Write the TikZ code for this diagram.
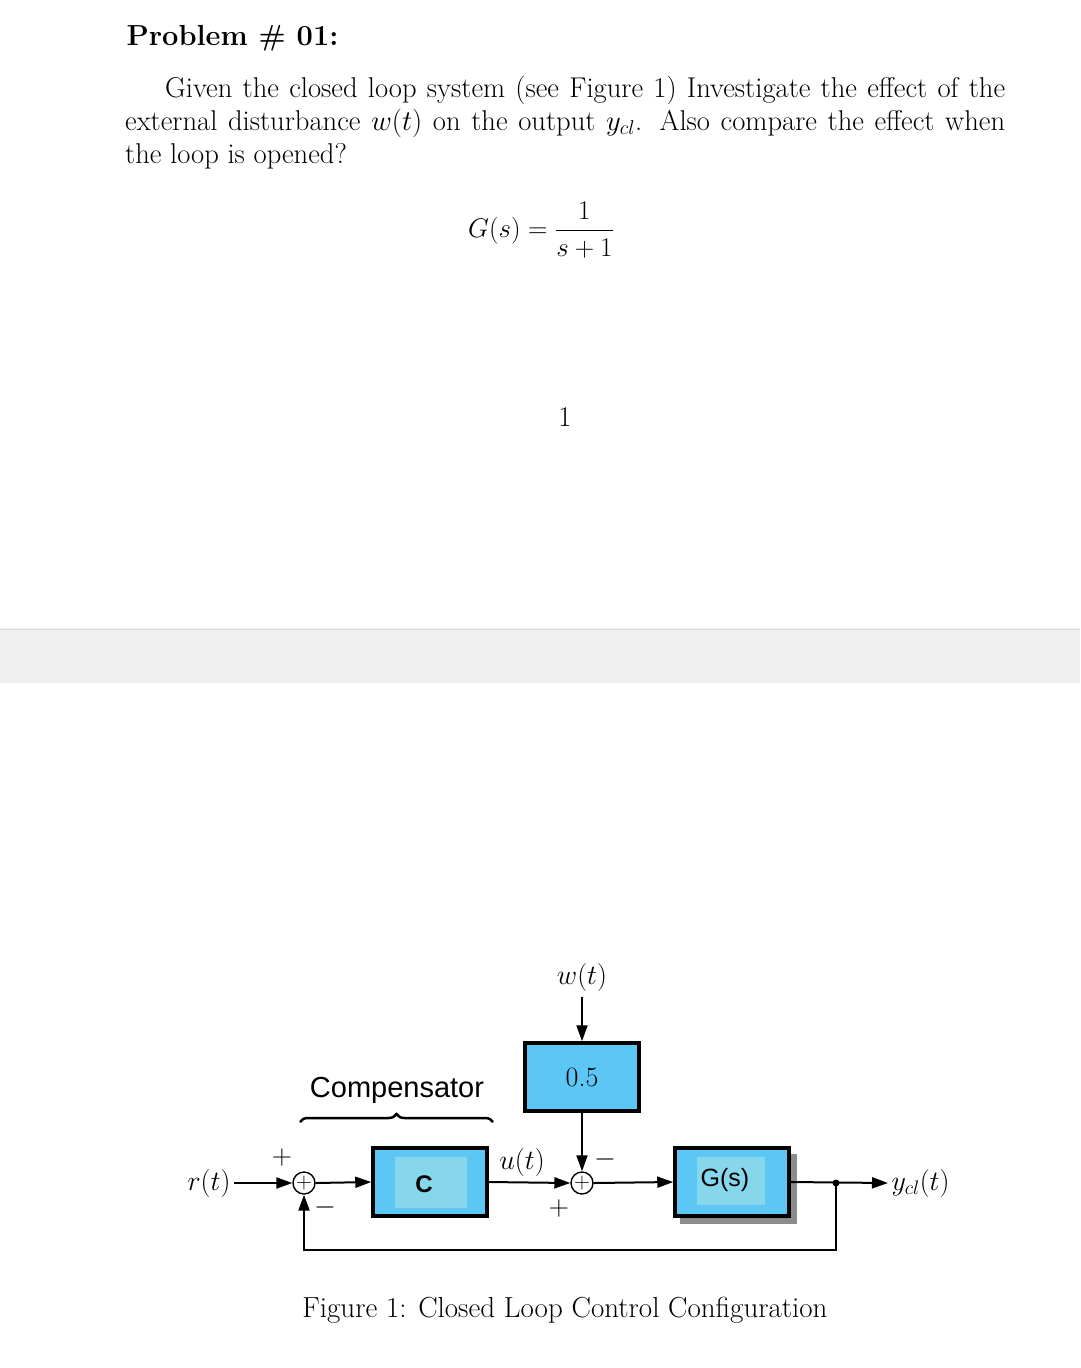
\documentclass[tikz,border=0pt]{standalone}
\usepackage{fix-cm}
\usepackage{amsmath}
\usepackage{fontspec}
\newfontfamily\arialf{Liberation Sans}
\usetikzlibrary{arrows.meta,decorations.pathreplacing,calc}
\definecolor{boxout}{HTML}{5CC6F4}
\definecolor{boxin}{HTML}{86D6EC}
\begin{document}
\begin{tikzpicture}[x=1pt,y=-1pt,
  blk/.style={draw=black,line width=3.5pt,fill=boxout,minimum width=114pt,minimum height=68pt,inner sep=0pt},
  sumn/.style={circle,draw=black,line width=1.4pt,minimum size=22pt,inner sep=0pt,fill=white,font=\fontsize{22}{22}\selectfont},
  sig/.style={-{Triangle[length=16pt,width=11pt]},line width=2pt},
  lbl/.style={font=\fontsize{28}{30}\selectfont},
  body/.style={font=\fontsize{28.6}{33}\selectfont}]
\useasboundingbox (0,0) rectangle (1080,1368);
\fill[white] (0,0) rectangle (1080,1368);
% text
\node[anchor=west,font=\fontsize{29}{33}\selectfont\bfseries] (title) at (123,38) {Problem \# 01:};
\node[body,anchor=north west,text width=880pt,align=justify,inner sep=0pt] (para) at (125,76)
{\hspace*{40pt}Given the closed loop system (see Figure 1) Investigate the effect of the external disturbance $w(t)$ on the output $y_{cl}$. Also compare the effect when\linebreak the loop is opened?};
\node[font=\fontsize{27}{33}\selectfont] (gs) at (541,230) {$G(s) = \dfrac{1}{s+1}$};
\node[body] (one) at (565,417) {1};
% band
\fill[black!6] (0,628) rectangle (1080,683);
\draw[black!15,line width=1pt] (0,629) -- (1080,629);
% diagram
\node[blk] (K) at (582,1077) {};
\node[font=\fontsize{28}{30}\selectfont] (Kt) at (582,1077) {0.5};
\node[blk] (C) at (430,1182) {};
\fill[boxin] (395,1157) rectangle (467,1208);
\node[font=\arialf\bfseries\fontsize{24}{26}\selectfont] (Ct) at (424,1184) {C};
\fill[black!45] (680,1154) rectangle (797,1224);
\node[blk] (G) at (732,1182) {};
\fill[boxin] (697,1157) rectangle (765,1205);
\node[font=\arialf\fontsize{25}{26}\selectfont] (Gt) at (725,1180) {G(s)};
\node[sumn] (s1) at (304,1183) {$+$};
\node[sumn] (s2) at (582,1183) {$+$};
\node[lbl] (r) at (209,1183) {$r(t)$};
\node[lbl] (w) at (582,977) {$w(t)$};
\node[lbl] (u) at (522,1162) {$u(t)$};
\node[lbl,anchor=west] (y) at (888,1183) {$y_{cl}(t)$};
\node[font=\arialf\fontsize{29}{30}\selectfont] (comp) at (397,1090) {Compensator};
\draw[decorate,decoration={brace,amplitude=8pt},line width=2.5pt] (300,1122) -- (493,1122);
\node[lbl] at (282,1157) {$+$};
\node[lbl] at (325,1207) {$-$};
\node[lbl] at (605,1159) {$-$};
\node[lbl] at (559,1208) {$+$};
\coordinate (wt) at (582,997);
\coordinate (br) at (836,1183);
\coordinate (fb) at (836,1250);
\coordinate (fb2) at (304,1250);
\draw[sig] (wt) -- (K.north);
\draw[sig] (K.south) -- (s2.north);
\draw[sig] (r.east) -- (s1.west);
\draw[sig] (s1.east) -- (C.west);
\draw[sig] (C.east) -- (s2.west);
\draw[sig] (s2.east) -- (G.west);
\draw[sig] (G.east) -- (y.west);
\fill (br) circle (3.5pt);
\draw[sig] (br) -- (fb) -- (fb2) -- (s1.south);
\node[font=\fontsize{29}{33}\selectfont] (cap) at (565,1310) {Figure 1: Closed Loop Control Configuration};
\end{tikzpicture}
\end{document}
